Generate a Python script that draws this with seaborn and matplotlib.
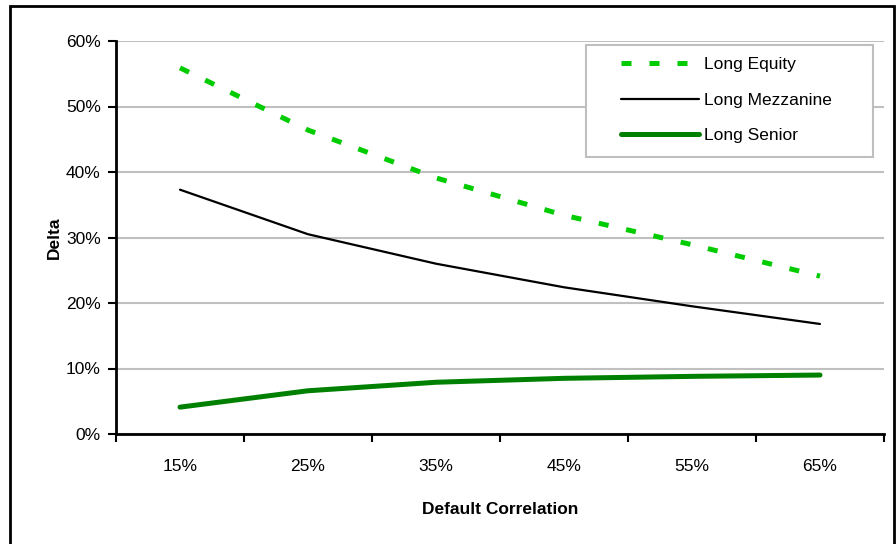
import matplotlib
matplotlib.use("Agg")
import matplotlib.pyplot as plt
from matplotlib.patches import Rectangle
import seaborn as sns
import pandas as pd
import numpy as np

categories = ["15%", "25%", "35%", "45%", "55%", "65%"]
long_equity = [55.9, 46.4, 39.1, 33.4, 28.9, 24.1]
long_mezzanine = [37.3, 30.5, 26.0, 22.4, 19.5, 16.8]
long_senior = [4.1, 6.6, 7.9, 8.5, 8.8, 9.0]
y_ticks = [0, 10, 20, 30, 40, 50, 60]

series = {"Long Equity": long_equity, "Long Mezzanine": long_mezzanine, "Long Senior": long_senior}
rows = []
for name, vals in series.items():
    for i, v in enumerate(vals):
        rows.append({"pos": i, "Correlation": categories[i], "Delta": v, "Series": name})
df = pd.DataFrame(rows)

sns.set_theme(style="white")
fonts = ["Liberation Sans Narrow", "Liberation Sans", "DejaVu Sans"]
plt.rcParams["font.family"] = fonts
plt.rcParams["text.color"] = "black"
plt.rcParams["axes.labelcolor"] = "black"
plt.rcParams["xtick.color"] = "black"
plt.rcParams["ytick.color"] = "black"

fig = plt.figure(figsize=(8.96, 5.44), dpi=100)
ax = fig.add_axes([116/896, 1-434/544, 768/896, 393/544])

palette = {"Long Equity": "#00CC00", "Long Mezzanine": "#000000", "Long Senior": "#008000"}
sns.lineplot(data=df, x="pos", y="Delta", hue="Series", palette=palette, ax=ax, legend=False)

styles = {"Long Equity": dict(lw=3.6, dashes=(2.0, 3.6)),
          "Long Mezzanine": dict(lw=1.6, dashes=None),
          "Long Senior": dict(lw=3.6, dashes=None)}
for line, name in zip(ax.get_lines(), series.keys()):
    st = styles[name]
    line.set_linewidth(st["lw"])
    line.set_solid_capstyle("round")
    if st["dashes"]:
        line.set_dashes(st["dashes"])
        line.set_dash_capstyle("butt")
    line.set_label(name)

ax.set_xlim(-0.5, 5.5)
ax.set_ylim(0, 60)
ax.set_yticks(y_ticks)
ax.set_yticklabels([f"{t}%" for t in y_ticks])
ax.set_xticks(np.arange(-0.5, 6.0, 1.0))
ax.set_xticklabels([])
ax.set_xticks(np.arange(6), minor=True)
ax.set_xticklabels(categories, minor=True)
ax.tick_params(axis="x", which="major", length=6, width=1.5, direction="out", color="black", bottom=True)
ax.tick_params(axis="x", which="minor", length=0, pad=18, labelsize=12.5, bottom=True)
ax.tick_params(axis="y", length=6, width=1.5, direction="out", color="black", labelsize=12.5, left=True, pad=5)

ax.yaxis.grid(True, color="#C0C0C0", lw=1.5)
ax.set_axisbelow(True)
for s in ["top", "right"]:
    ax.spines[s].set_visible(False)
for s in ["left", "bottom"]:
    ax.spines[s].set_color("black")
    ax.spines[s].set_linewidth(2)

ax.set_xlabel("Default Correlation", fontsize=12.5, fontweight="bold", labelpad=20)
ax.set_ylabel("Delta", fontsize=12.5, fontweight="bold", labelpad=3)

# legend frame (white box drawn over gridlines)
ax.add_patch(Rectangle((586/896, 1-157/544), 287/896, 112/544, transform=fig.transFigure,
                       facecolor="white", edgecolor="#BFBFBF", lw=1.5, zorder=4, clip_on=False))
leg = ax.legend(loc="upper left", bbox_to_anchor=(621/896, 1-57/544), bbox_transform=fig.transFigure,
                fontsize=12.5, frameon=False, handlelength=4.5, handletextpad=0.3,
                borderpad=0, labelspacing=1.17, borderaxespad=0)
leg.set_zorder(5)

fig.patches.append(Rectangle((10/896, -0.01), 884/896, 1-6/544+0.01, transform=fig.transFigure,
                             fill=False, edgecolor="black", lw=2))

fig.savefig("out.png", dpi=100)
